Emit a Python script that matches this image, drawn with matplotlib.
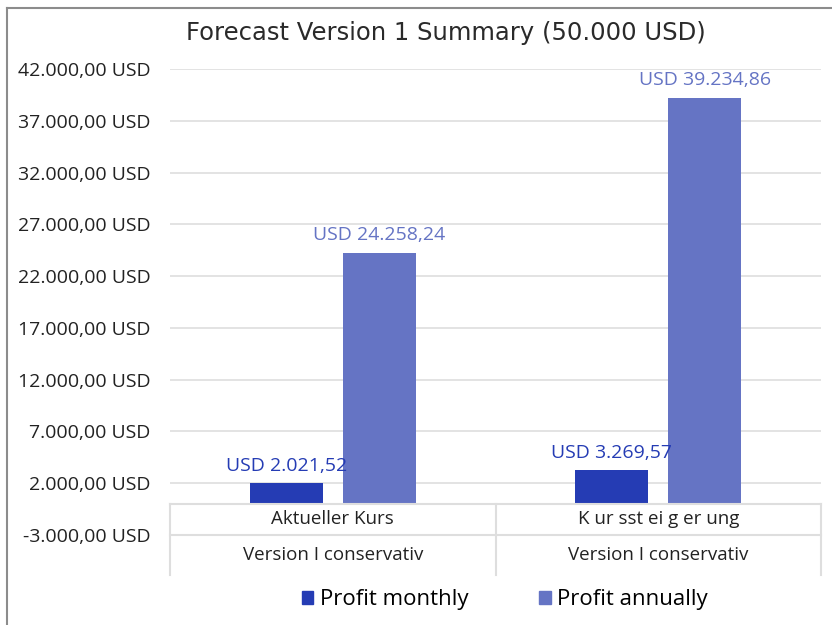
import matplotlib
matplotlib.use("Agg")
import matplotlib.pyplot as plt
from matplotlib.lines import Line2D
from matplotlib.patches import Patch
import numpy as np

# Chart data
categories = ["Aktueller Kurs", "K ur sst ei g er ung"]
outer_labels = ["Version I conservativ", "Version I conservativ"]
profit_monthly = [2021.52, 3269.57]
profit_annually = [24258.24, 39234.86]
series_names = ["Profit monthly", "Profit annually"]
yticks = [-3000, 2000, 7000, 12000, 17000, 22000, 27000, 32000, 37000, 42000]

col_monthly = "#253cb4"
col_annual = "#6574c4"
grid_col = "#dedede"


def usd_axis(v):
    s = f"{abs(v):,.2f}".replace(",", "X").replace(".", ",").replace("X", ".")
    return ("-" if v < 0 else "") + s + " USD"


def usd_label(v):
    s = f"{v:,.2f}".replace(",", "X").replace(".", ",").replace("X", ".")
    return "USD " + s


plt.rcParams["font.family"] = ["Open Sans", "DejaVu Sans"]

W, H = 832, 625
fig = plt.figure(figsize=(W / 100, H / 100), dpi=100)

# axes placed in pixel terms: x 170..821, y 69 (42000) .. 534.8 (-3000)
ax_l, ax_r, ax_t, ax_b = 170, 821, 69, 534.8
ax = fig.add_axes([ax_l / W, 1 - ax_b / H, (ax_r - ax_l) / W, (ax_b - ax_t) / H])
ax.set_ylim(-3000, 42000)
ax.set_xlim(-0.5, 1.5)
for sp in ax.spines.values():
    sp.set_visible(False)

# gridlines (only from 2000 upward, the table sits below 0)
for t in yticks[1:]:
    ax.axhline(t, color=grid_col, lw=1.2, zorder=0)

x = np.arange(len(categories))
off = 0.143
w = 0.224
ax.bar(x - off, profit_monthly, w, color=col_monthly, zorder=2)
ax.bar(x + off, profit_annually, w, color=col_annual, zorder=2)

for xi, v in zip(x, profit_monthly):
    ax.text(xi - off, v + 800, usd_label(v), ha="center", va="bottom",
            fontsize=14, color=col_monthly)
for xi, v in zip(x, profit_annually):
    ax.text(xi + off, v + 800, usd_label(v), ha="center", va="bottom",
            fontsize=14, color=col_annual)

ax.set_yticks(yticks)
ax.set_yticklabels([usd_axis(t) for t in yticks], fontsize=14, color="#222222")
ax.tick_params(axis="y", length=0, pad=14)
for lbl in ax.get_yticklabels()[:1]:
    lbl.set_y(-2700)
ax.set_xticks([])

# category table under the bars
y0 = 3000 / 45000  # data 0 in axes coords
y_end = -(575 - ax_b) / (ax_b - ax_t)
tkw = dict(transform=ax.transAxes, clip_on=False, color=grid_col, lw=1.5)
ax.plot([0, 1], [y0, y0], **tkw)
ax.plot([0, 1], [0, 0], **tkw)
for xv in [0, 0.5, 1]:
    ax.plot([xv, xv], [y0, y_end], **tkw)

for i, (c, o) in enumerate(zip(categories, outer_labels)):
    xc = (i + 0.5) / len(categories)
    ax.text(xc, y0 / 2, c, transform=ax.transAxes, ha="center", va="center",
            fontsize=13.5, color="#222222")
    ax.text(xc, (0 + y_end) / 2, o, transform=ax.transAxes, ha="center",
            va="center", fontsize=13.5, color="#222222")

# title
fig.text(446 / W, 1 - 33 / H, "Forecast Version 1 Summary (50.000 USD)",
         ha="center", va="center", fontsize=17.5, color="#2a2a2a",
         family="DejaVu Sans")

# legend
handles = [Patch(color=col_monthly), Patch(color=col_annual)]
fig.legend(handles, series_names, loc="center", ncol=2,
           bbox_to_anchor=(505 / W, 1 - 600 / H), frameon=False,
           fontsize=16, handlelength=0.5, handleheight=0.5,
           handletextpad=0.3, columnspacing=3.2)

# chart border (left and top)
fig.add_artist(Line2D([7.5 / W, 7.5 / W], [0, 1 - 7.5 / H],
                      transform=fig.transFigure, color="#8c8c8c", lw=1.5))
fig.add_artist(Line2D([7.5 / W, 1], [1 - 7.5 / H, 1 - 7.5 / H],
                      transform=fig.transFigure, color="#8c8c8c", lw=1.5))

fig.savefig("out.png", dpi=100)
